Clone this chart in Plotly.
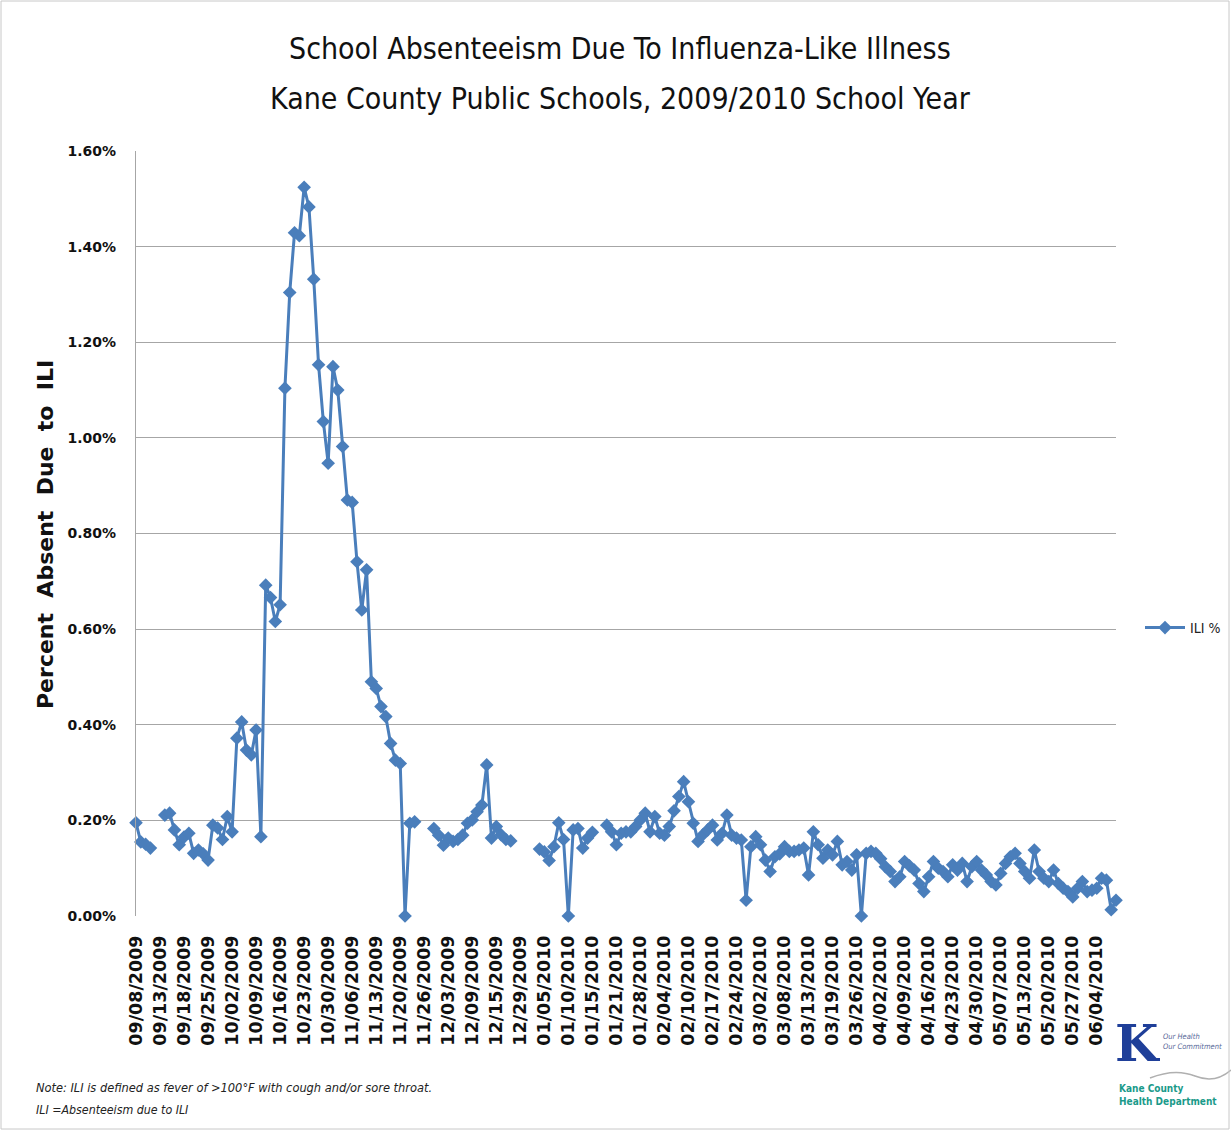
import plotly.graph_objects as go

# ILI % (percent absent due to ILI), one value per school-day category; None = no data
ili_pct = [
    0.195, 0.155, 0.150, 0.142, None, None, 0.211, 0.215, 0.180, 0.149,
    0.165, 0.173, 0.131, 0.138, 0.130, 0.117, 0.190, 0.184, 0.160, 0.208,
    0.176, 0.372, 0.406, 0.347, 0.337, 0.389, 0.166, 0.692, 0.666, 0.616,
    0.651, 1.104, 1.304, 1.429, 1.423, 1.524, 1.483, 1.332, 1.153, 1.034,
    0.947, 1.149, 1.100, 0.982, 0.870, 0.865, 0.741, 0.640, 0.724, 0.490,
    0.476, 0.438, 0.417, 0.361, 0.326, 0.319, 0.000, 0.194, 0.197, None,
    None, None, 0.183, 0.169, 0.148, 0.163, 0.156, 0.160, 0.169, 0.194,
    0.201, 0.218, 0.232, 0.316, 0.163, 0.187, 0.170, 0.160, 0.157, None,
    None, None, None, None, 0.140, 0.134, 0.116, 0.145, 0.195, 0.160,
    0.000, 0.180, 0.183, 0.142, 0.163, 0.175, None, None, 0.190, 0.176,
    0.149, 0.173, 0.176, 0.176, 0.187, 0.201, 0.215, 0.176, 0.208, 0.173,
    0.169, 0.187, 0.220, 0.250, 0.281, 0.239, 0.194, 0.156, 0.170, 0.180,
    0.190, 0.159, 0.173, 0.211, 0.169, 0.163, 0.159, 0.033, 0.145, 0.166,
    0.149, 0.117, 0.093, 0.124, 0.130, 0.145, 0.135, 0.135, 0.138, 0.142,
    0.086, 0.176, 0.149, 0.121, 0.138, 0.128, 0.156, 0.107, 0.114, 0.096,
    0.128, 0.000, 0.131, 0.135, 0.131, 0.120, 0.103, 0.093, 0.072, 0.082,
    0.114, 0.105, 0.096, 0.068, 0.051, 0.082, 0.114, 0.100, 0.093, 0.082,
    0.107, 0.096, 0.110, 0.072, 0.103, 0.114, 0.096, 0.086, 0.072, 0.065,
    0.089, 0.110, 0.124, 0.131, 0.110, 0.093, 0.079, 0.138, 0.093, 0.079,
    0.072, 0.096, 0.068, 0.058, 0.051, 0.040, 0.058, 0.072, 0.051, 0.054,
    0.058, 0.079, 0.075, 0.013, 0.033,
]

# date labels shown every 5th category
tick_labels = [
    "09/08/2009", "09/13/2009", "09/18/2009", "09/25/2009", "10/02/2009",
    "10/09/2009", "10/16/2009", "10/23/2009", "10/30/2009", "11/06/2009",
    "11/13/2009", "11/20/2009", "11/26/2009", "12/03/2009", "12/09/2009",
    "12/15/2009", "12/29/2009", "01/05/2010", "01/10/2010", "01/15/2010",
    "01/21/2010", "01/28/2010", "02/04/2010", "02/10/2010", "02/17/2010",
    "02/24/2010", "03/02/2010", "03/08/2010", "03/13/2010", "03/19/2010",
    "03/26/2010", "04/02/2010", "04/09/2010", "04/16/2010", "04/23/2010",
    "04/30/2010", "05/07/2010", "05/13/2010", "05/20/2010", "05/27/2010",
    "06/04/2010",
]
label_step = 5

y_ticks = [0.0, 0.2, 0.4, 0.6, 0.8, 1.0, 1.2, 1.4, 1.6]

x_idx = list(range(len(ili_pct)))
tick_pos = [i * label_step for i in range(len(tick_labels))]

BLUE = "#4a7ebb"
GRID = "#a6a6a6"
NARROW = "Liberation Sans Narrow, DejaVu Sans Condensed, Arial Narrow, sans-serif"

fig = go.Figure()
fig.add_trace(go.Scatter(
    x=x_idx, y=ili_pct, name="ILI %", mode="lines+markers",
    line=dict(color=BLUE, width=3),
    marker=dict(symbol="diamond", size=10.5, color=BLUE),
    connectgaps=False, cliponaxis=False,
))

W, H = 1231, 1130
L, R, T, B = 136, 115, 151, 214
pw, ph = W - L - R, H - T - B


def px(xp):
    return (xp - L) / pw


def py(yp):
    return (H - B - yp) / ph


fig.update_layout(
    template="none",
    width=W, height=H,
    margin=dict(l=L, r=R, t=T, b=B, autoexpand=False),
    paper_bgcolor="white", plot_bgcolor="white",
    showlegend=True,
    legend=dict(x=px(1140), y=py(628), xanchor="left", yanchor="middle",
                font=dict(family=NARROW, size=14, color="#222"),
                bgcolor="rgba(0,0,0,0)", itemwidth=40),
    xaxis=dict(
        range=[0, len(ili_pct) - 1], automargin=False,
        tickmode="array", tickvals=tick_pos, ticktext=tick_labels,
        tickangle=-90, showgrid=False, zeroline=False,
        showline=False,
        tickfont=dict(family="DejaVu Sans", size=17.5, color="#111", weight="bold"),
        ticks="", ticklabelstandoff=15,
    ),
    yaxis=dict(
        range=[0, 1.6], tickmode="array", tickvals=y_ticks, automargin=False,
        ticktext=[f"{v:.2f}%" for v in y_ticks],
        showgrid=True, gridcolor=GRID, gridwidth=1.3,
        zeroline=False, showline=True, linecolor=GRID, linewidth=1.3,
        tickfont=dict(family="DejaVu Sans", size=14, color="#111", weight="bold"),
        ticks="", ticklabelstandoff=16,
    ),
)

# titles
fig.add_annotation(x=px(620), y=py(48), xref="paper", yref="paper", showarrow=False,
                   text="School Absenteeism Due To Influenza-Like Illness",
                   font=dict(family=NARROW, size=30, color="#111"),
                   xanchor="center", yanchor="middle")
fig.add_annotation(x=px(620), y=py(98), xref="paper", yref="paper", showarrow=False,
                   text="Kane County Public Schools, 2009/2010 School Year",
                   font=dict(family=NARROW, size=30, color="#111"),
                   xanchor="center", yanchor="middle")

# y axis title
fig.add_annotation(x=px(45), y=py(535), xref="paper", yref="paper", showarrow=False,
                   text="Percent  Absent  Due  to  ILI", textangle=-90,
                   font=dict(family="DejaVu Sans", size=22, color="#111", weight="bold"),
                   xanchor="center", yanchor="middle")

# notes
fig.add_annotation(x=px(34), y=py(1087), xref="paper", yref="paper", showarrow=False,
                   text="<i>Note: ILI is defined as fever of >100°F with cough and/or sore throat.</i>",
                   font=dict(family=NARROW, size=12.7, color="#222"),
                   xanchor="left", yanchor="middle")
fig.add_annotation(x=px(34), y=py(1110), xref="paper", yref="paper", showarrow=False,
                   text="<i>ILI =Absenteeism due to ILI</i>",
                   font=dict(family=NARROW, size=12.3, color="#222"),
                   xanchor="left", yanchor="middle")

# logo (approximation)
fig.add_annotation(x=px(1137), y=py(1043), xref="paper", yref="paper", showarrow=False,
                   text="<b>K</b>", font=dict(family="DejaVu Serif", size=50, color="#1f3f99"),
                   xanchor="center", yanchor="middle")
fig.add_annotation(x=px(1161), y=py(1041), xref="paper", yref="paper", showarrow=False,
                   text="<i>Our Health<br>Our Commitment</i>",
                   font=dict(family=NARROW, size=7.5, color="#5a6a9a"),
                   xanchor="left", yanchor="middle", align="left")
fig.add_annotation(x=px(1117), y=py(1095), xref="paper", yref="paper", showarrow=False,
                   text="<b>Kane County<br>Health Department</b>",
                   font=dict(family=NARROW, size=10, color="#1a9a8a"),
                   xanchor="left", yanchor="middle", align="left")
fig.add_shape(type="path", xref="paper", yref="paper",
              path=f"M {px(1150)} {py(1078)} Q {px(1175)} {py(1068)} {px(1195)} {py(1076)} T {px(1231)} {py(1070)}",
              line=dict(color="#b0b0b0", width=1.5))

# outer frame
fig.add_shape(type="rect", xref="paper", yref="paper",
              x0=px(1), x1=px(1229), y0=py(1129), y1=py(1),
              line=dict(color="#c8c8c8", width=1))

fig.write_html("out.html", config={"displayModeBar": False},
               post_script="document.body.style.margin='0px';")
